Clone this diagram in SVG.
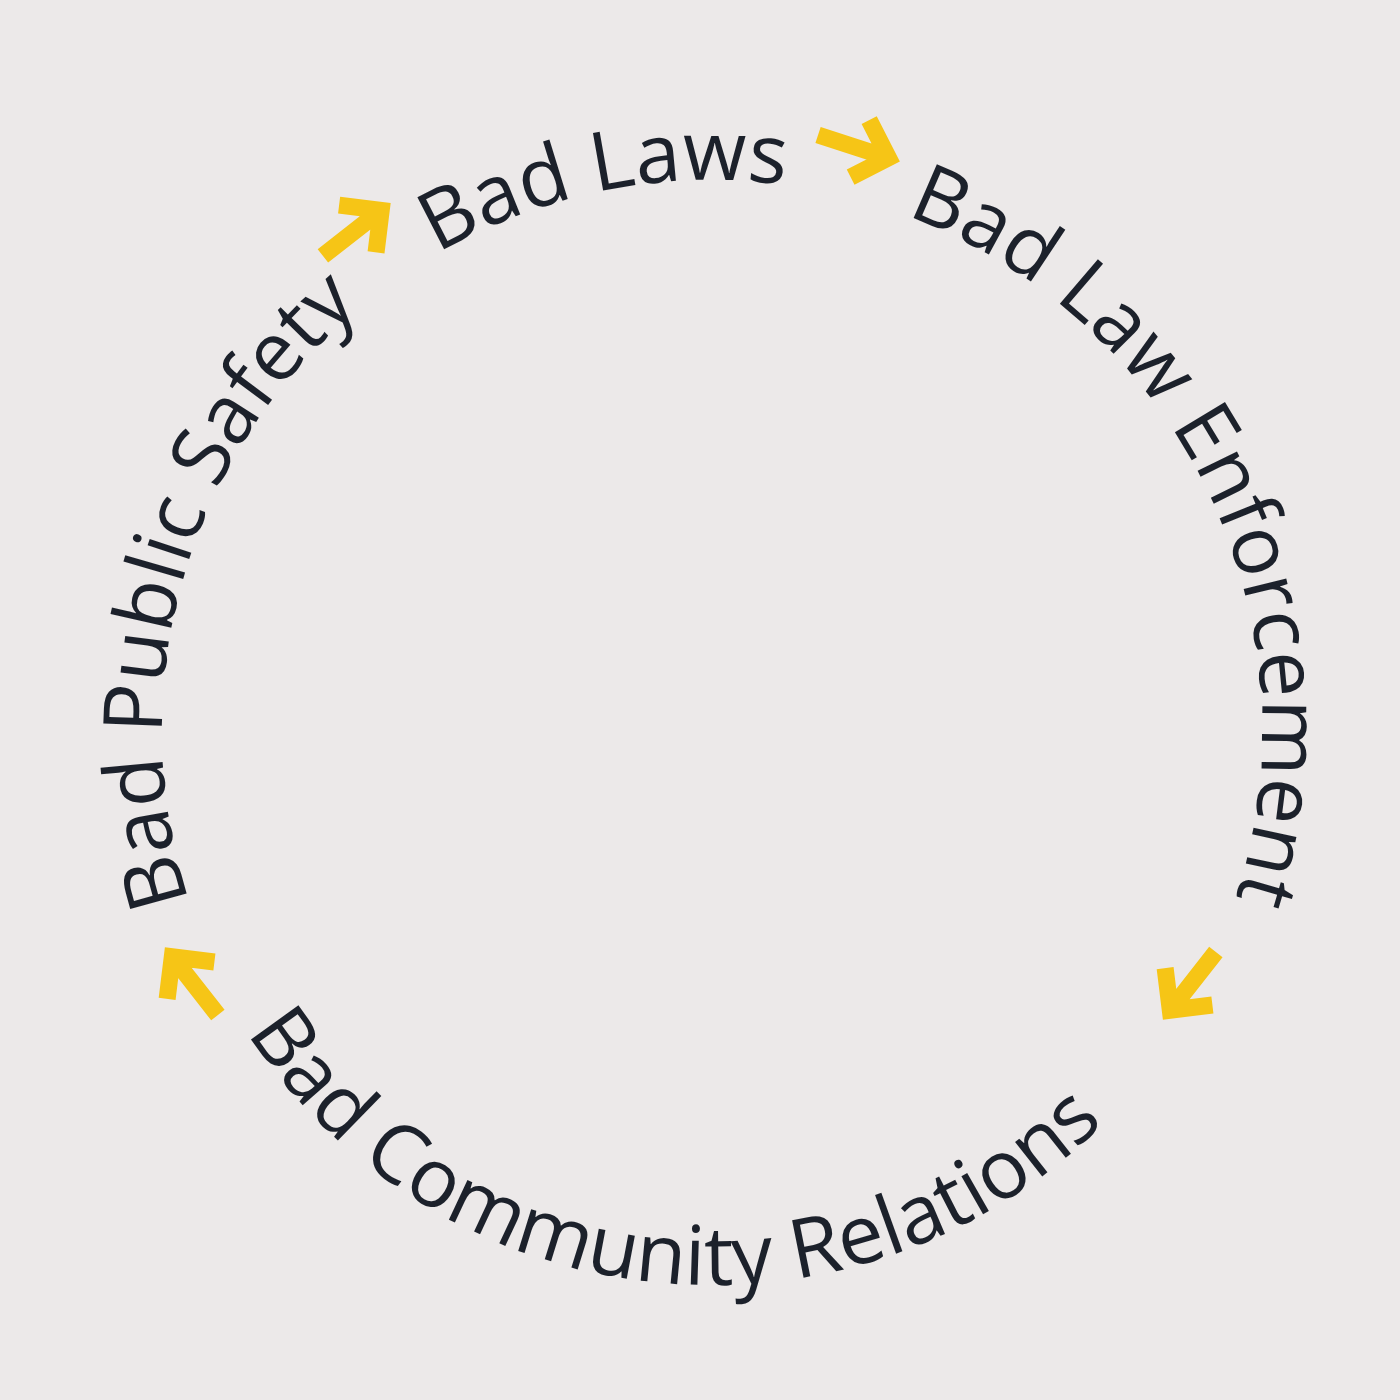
<svg xmlns="http://www.w3.org/2000/svg" xmlns:xlink="http://www.w3.org/1999/xlink" width="1400" height="1400" viewBox="0 0 1400 1400">
<style>
.t{font-family:"Open Sans","Noto Sans",sans-serif;font-size:82px;letter-spacing:0px;fill:#1c212b}
.a{fill:none;stroke:#f6c516;stroke-width:17;stroke-linejoin:miter;stroke-linecap:butt}
</style>
<defs>
<path id="cw" d="M712,1280 A550,550 0 0 1 162,730 A550,550 0 0 1 712,180 A550,550 0 0 1 1262,730 A550,550 0 0 1 712,1280"/>
<path id="ccw" d="M157,730 A555,555 0 0 0 712,1285 A555,555 0 0 0 1267,730"/>
<g id="arr"><path class="a" d="M-42,0 H30 M2,-30 L32,0 L2,30"/></g>
</defs>
<rect width="1400" height="1400" fill="#ece9e9"/>
<g id="connectors">
<use xlink:href="#arr" transform="translate(858,148) rotate(18)"/>
<use xlink:href="#arr" transform="translate(356,230) rotate(-38)"/>
<use xlink:href="#arr" transform="translate(1190,985) rotate(128)"/>
<use xlink:href="#arr" transform="translate(192,982) rotate(232)"/>
</g>
<g id="node-public-safety"><text class="t"><textPath xlink:href="#cw" startOffset="690">Bad Public Safety</textPath></text></g>
<g id="node-laws"><text class="t"><textPath xlink:href="#cw" startOffset="1440">Bad Laws</textPath></text></g>
<g id="node-enforcement"><text class="t"><textPath xlink:href="#cw" startOffset="1926">Bad Law Enforcement</textPath></text></g>
<g id="node-community"><text class="t"><textPath xlink:href="#ccw" startOffset="320">Bad Community Relations</textPath></text></g>
</svg>
